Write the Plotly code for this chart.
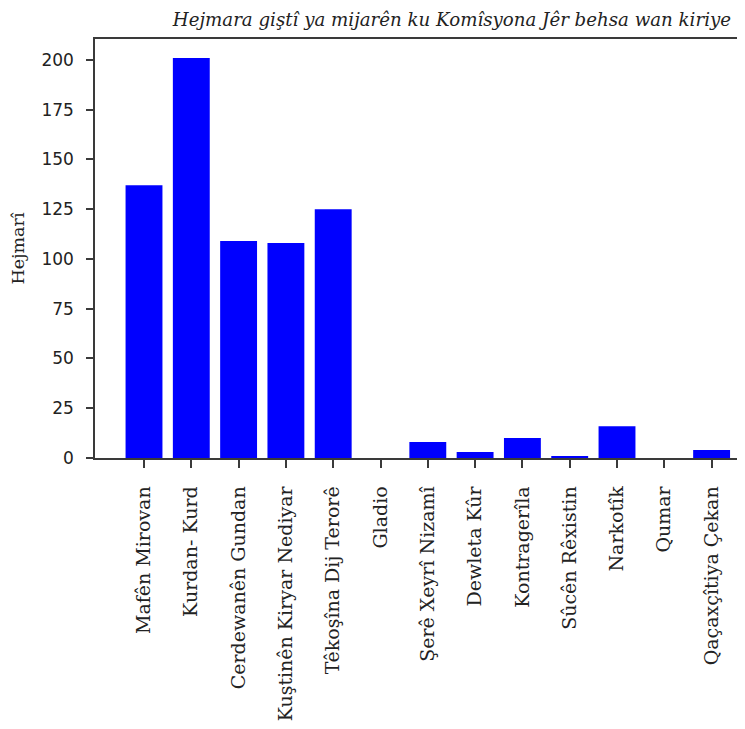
import plotly.graph_objects as go

categories = [
    "Mafên Mirovan", "Kurdan- Kurd", "Cerdewanên Gundan", "Kuştinên Kiryar Nediyar",
    "Têkoşîna Dij Terorê", "Gladio", "Şerê Xeyrî Nizamî", "Dewleta Kûr",
    "Kontragerîla", "Sûcên Rêxistin", "Narkotîk", "Qumar", "Qaçaxçîtiya Çekan",
]
values = [137, 201, 109, 108, 125, 0, 8, 3, 10, 1, 16, 0, 4]
y_ticks = [0, 25, 50, 75, 100, 125, 150, 175, 200]

title_text = "Hejmara giştî ya mijarên ku Komîsyona Jêr behsa wan kiriye"
y_title = "Hejmarî"

fig = go.Figure(
    go.Bar(
        x=list(range(len(categories))),
        y=values,
        marker=dict(color="#0000ff", line=dict(width=0)),
        width=0.78,
    )
)

axis_color = "#3a3a3a"
W, H = 737, 713
L, T, B = 87, 31, 257
fig.update_layout(
    width=W,
    height=H,
    margin=dict(l=L, r=0, t=T, b=B),
    plot_bgcolor="white",
    paper_bgcolor="white",
    showlegend=False,
    title=dict(
        text=title_text,
        font=dict(family="DejaVu Serif", size=18.2, color="#222222", style="italic"),
        xref="paper", x=(723 - L) / (W - L), xanchor="right",
        yref="container", y=1 - 12 / H, yanchor="middle",
    ),
    xaxis=dict(
        range=[-1.036, 12.706],
        tickmode="array",
        tickvals=list(range(len(categories))),
        ticktext=categories,
        tickangle=-90,
        ticks="outside",
        ticklen=8,
        tickcolor=axis_color,
        tickwidth=1.5,
        showline=True,
        linecolor=axis_color,
        linewidth=1.5,
        mirror=True,
        showgrid=False,
        zeroline=False,
        ticklabelstandoff=11,
        tickfont=dict(family="DejaVu Serif", size=19, color="#222222"),
    ),
    yaxis=dict(
        range=[0, 210.5],
        tickmode="array",
        tickvals=y_ticks,
        ticks="outside",
        ticklen=7,
        tickcolor=axis_color,
        tickwidth=1.5,
        showline=True,
        linecolor=axis_color,
        linewidth=1.5,
        showgrid=False,
        zeroline=False,
        ticklabelstandoff=9,
        tickfont=dict(family="DejaVu Sans", size=17, color="#222222"),
        title=dict(text=y_title, font=dict(family="DejaVu Serif", size=17.5, color="#222222"), standoff=16),
    ),
)

fig.write_html("out.html")
